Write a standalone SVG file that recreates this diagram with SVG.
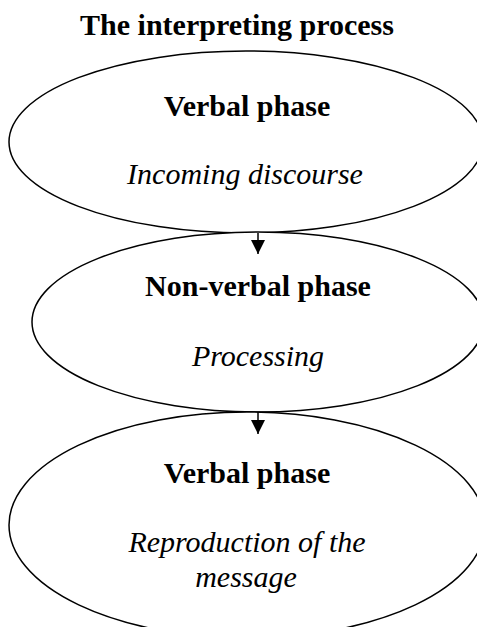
<svg xmlns="http://www.w3.org/2000/svg" width="477" height="627" viewBox="0 0 477 627">
  <style>
    .phase { fill: #ffffff; stroke: #000000; stroke-width: 1.5; }
    .title { font-family: "Liberation Serif", "Times New Roman", serif; font-weight: bold; font-size: 30px; fill: #000; }
    .head { font-family: "Liberation Serif", "Times New Roman", serif; font-weight: bold; font-size: 30px; fill: #000; }
    .desc { font-family: "Liberation Serif", "Times New Roman", serif; font-style: italic; font-size: 30px; fill: #000; }
    .link { stroke: #000; stroke-width: 1.5; fill: none; }
  </style>
  <defs>
    <marker id="arrowhead" markerWidth="14" markerHeight="14" refX="14" refY="7" orient="auto" markerUnits="userSpaceOnUse">
      <path d="M0,0 L14,7 L0,14 Z" fill="#000"/>
    </marker>
  </defs>
  <rect width="477" height="627" fill="#ffffff"/>

  <text class="title" x="237" y="35" text-anchor="middle">The interpreting process</text>

  <g id="verbal-phase-in">
    <ellipse class="phase" cx="246" cy="142" rx="237" ry="91"/>
    <text class="head" x="247" y="116" text-anchor="middle">Verbal phase</text>
    <text class="desc" x="245" y="184" text-anchor="middle">Incoming discourse</text>
  </g>

  <g id="non-verbal-phase">
    <ellipse class="phase" cx="258" cy="322" rx="226" ry="90"/>
    <text class="head" x="258" y="296" text-anchor="middle">Non-verbal phase</text>
    <text class="desc" x="258" y="366" text-anchor="middle">Processing</text>
  </g>

  <g id="verbal-phase-out">
    <ellipse class="phase" cx="247" cy="525" rx="238" ry="113"/>
    <text class="head" x="247" y="483" text-anchor="middle">Verbal phase</text>
    <text class="desc" x="247" y="552" text-anchor="middle">Reproduction of the</text>
    <text class="desc" x="246" y="587" text-anchor="middle">message</text>
  </g>

  <g id="connectors">
    <line class="link" x1="258" y1="233" x2="258" y2="254" marker-end="url(#arrowhead)"/>
    <line class="link" x1="258" y1="412" x2="258" y2="434" marker-end="url(#arrowhead)"/>
  </g>
</svg>
